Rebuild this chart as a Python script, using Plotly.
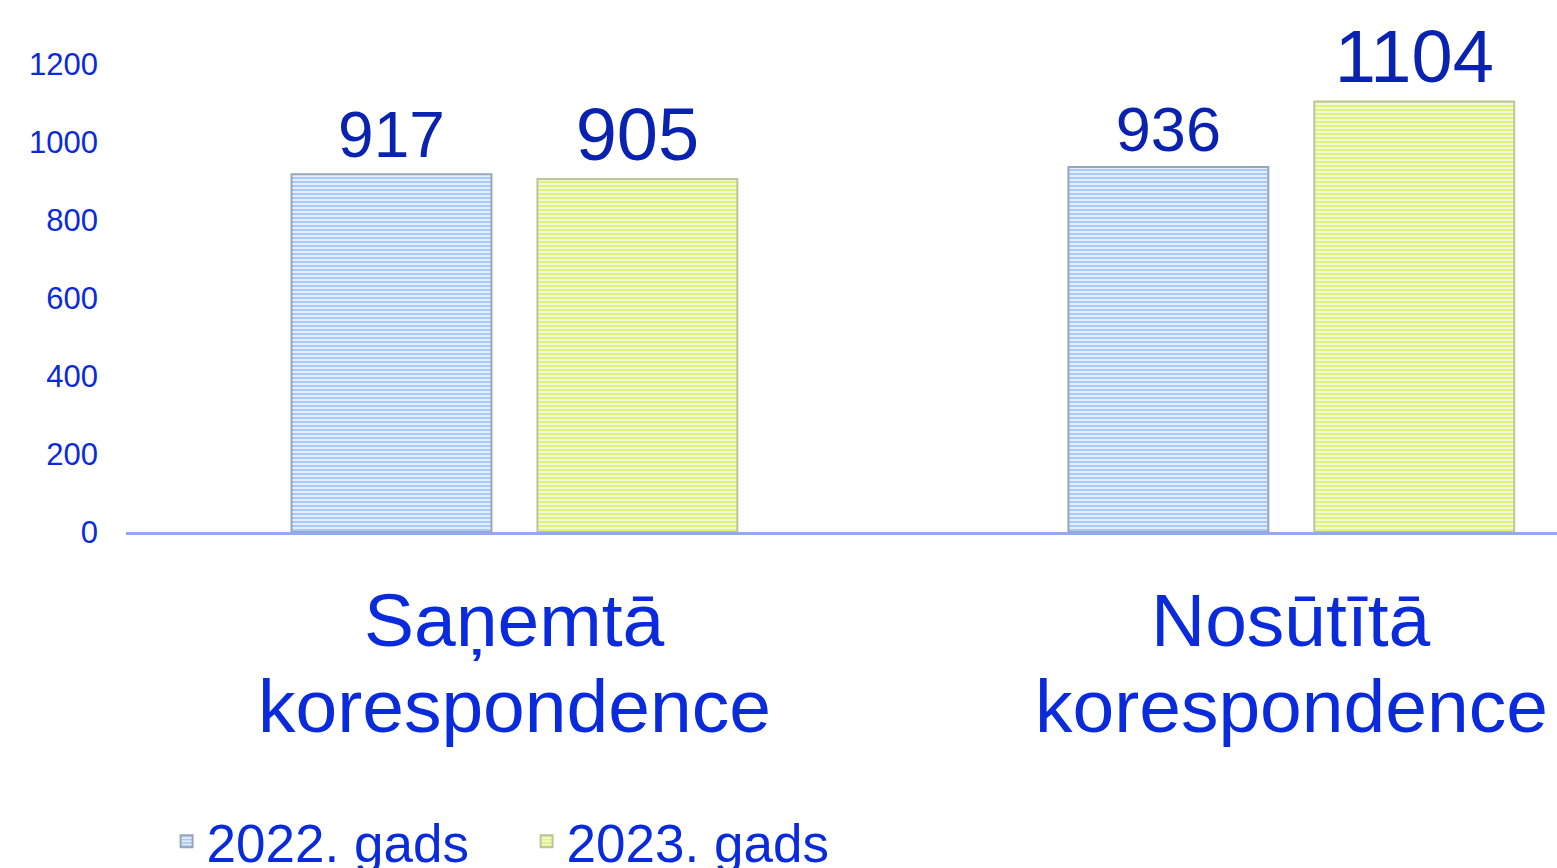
import plotly.graph_objects as go

categories = ["Saņemtā korespondence", "Nosūtītā korespondence"]
series_names = ["2022. gads", "2023. gads"]
values_2022 = [917, 936]
values_2023 = [905, 1104]
y_ticks = [0, 200, 400, 600, 800, 1000, 1200]

FONT = "Liberation Sans, Arial, sans-serif"
BLUE_TXT = "#0a2bdc"
LABEL_TXT = "#0a22b0"

fig = go.Figure()

fig.add_trace(go.Bar(
    x=categories, y=values_2022, name=series_names[0],
    text=[str(v) for v in values_2022], textposition="outside",
    textfont=dict(size=[64, 63], color=LABEL_TXT, family=FONT),
    marker=dict(
        color="#e4edf9",
        pattern=dict(shape="-", fgcolor="#a6cafa", bgcolor="#e6eef9",
                     size=4, solidity=0.5, fillmode="replace"),
        line=dict(color="#98a6ba", width=2),
    ),
    cliponaxis=False,
))
fig.add_trace(go.Bar(
    x=categories, y=values_2023, name=series_names[1],
    text=[str(v) for v in values_2023], textposition="outside",
    textfont=dict(size=[74, 74], color=LABEL_TXT, family=FONT),
    marker=dict(
        color="#f3f8dc",
        pattern=dict(shape="-", fgcolor="#ddf575", bgcolor="#f3f8dc",
                     size=4, solidity=0.5, fillmode="replace"),
        line=dict(color="#bcc49c", width=2),
    ),
    cliponaxis=False,
))

# two-line category labels under the axis
for cat in categories:
    first, second = cat.split(" ", 1)
    fig.add_annotation(x=cat, xref="x", y=0.286, yref="paper", text=first,
                       showarrow=False, yanchor="middle",
                       font=dict(size=75, color=BLUE_TXT, family=FONT))
    fig.add_annotation(x=cat, xref="x", y=0.187, yref="paper", text=second,
                       showarrow=False, yanchor="middle",
                       font=dict(size=75, color=BLUE_TXT, family=FONT))

fig.update_layout(
    width=1557, height=868,
    margin=dict(l=0, r=0, t=0, b=0, autoexpand=False),
    paper_bgcolor="white", plot_bgcolor="white",
    font=dict(family=FONT, color=BLUE_TXT),
    barmode="group", bargap=0.367, bargroupgap=0.187,
    showlegend=True,
    legend=dict(orientation="h", x=0.107, xanchor="left", y=0.078, yanchor="top",
                font=dict(size=53, color=BLUE_TXT, family=FONT),
                entrywidth=315, entrywidthmode="pixels",
                itemsizing="constant", bgcolor="rgba(0,0,0,0)"),
    xaxis=dict(domain=[126 / 1557, 1], range=[-0.5, 1.342],
               showticklabels=False, ticks="", showgrid=False, zeroline=False,
               showline=True, linecolor="#95a8f8", linewidth=3),
    yaxis=dict(domain=[(868 - 532) / 868, (868 - 64) / 868], range=[0, 1200],
               tickvals=y_ticks, ticks="", showgrid=False, zeroline=False,
               showline=False, ticklabelstandoff=27,
               tickfont=dict(size=31, color=BLUE_TXT, family=FONT)),
)

fig.write_html("out.html", config={"displayModeBar": False},
               post_script="document.body.style.margin='0';")
